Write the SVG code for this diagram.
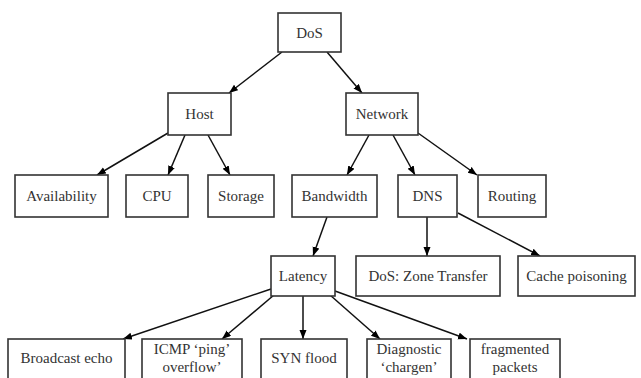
<svg xmlns="http://www.w3.org/2000/svg" width="641" height="378" viewBox="0 0 641 378">
<defs>
<marker id="ah" markerWidth="10" markerHeight="8" refX="9" refY="3.5" orient="auto" markerUnits="userSpaceOnUse">
<path d="M0,0 L9,3.5 L0,7 z" fill="#000"/>
</marker>
<style>
rect{fill:#fff;stroke:#333;stroke-width:1.6}
text{font-family:'Liberation Serif','Times New Roman','DejaVu Serif',serif;font-size:15px;fill:#333;text-anchor:middle;dominant-baseline:central}
.e line{stroke:#111;stroke-width:1.5;marker-end:url(#ah)}
</style>
</defs>
<rect x="0" y="0" width="641" height="378" style="fill:#fff;stroke:none"/>
<g id="connectors" class="e">
<line x1="282" y1="52" x2="229" y2="93"/>
<line x1="327" y1="52" x2="362" y2="93"/>
<line x1="168" y1="133" x2="97" y2="175"/>
<line x1="185" y1="135" x2="168" y2="175"/>
<line x1="208" y1="135" x2="230" y2="175"/>
<line x1="369" y1="135" x2="347" y2="175"/>
<line x1="393" y1="135" x2="415" y2="175"/>
<line x1="418" y1="133" x2="477" y2="175"/>
<line x1="327" y1="217" x2="313" y2="256"/>
<line x1="427" y1="217" x2="427" y2="256"/>
<line x1="458" y1="213" x2="540" y2="256"/>
<line x1="271" y1="289" x2="123" y2="339"/>
<line x1="274" y1="295" x2="222" y2="339"/>
<line x1="303" y1="295" x2="303" y2="339"/>
<line x1="330" y1="295" x2="380" y2="339"/>
<line x1="335" y1="291" x2="467" y2="339"/>
</g>
<g id="n-dos"><rect x="278" y="13" width="63" height="39"/><text x="309.5" y="33">DoS</text></g>
<g id="n-host"><rect x="168" y="93" width="63" height="42"/><text x="199.5" y="114">Host</text></g>
<g id="n-network"><rect x="346" y="93" width="72" height="42"/><text x="382" y="114">Network</text></g>
<g id="n-availability"><rect x="15" y="175" width="93" height="42"/><text x="61.5" y="196">Availability</text></g>
<g id="n-cpu"><rect x="126" y="175" width="62" height="42"/><text x="157" y="196">CPU</text></g>
<g id="n-storage"><rect x="208" y="175" width="66" height="42"/><text x="241" y="196">Storage</text></g>
<g id="n-bandwidth"><rect x="292" y="175" width="85" height="42"/><text x="334.5" y="196">Bandwidth</text></g>
<g id="n-dns"><rect x="398" y="175" width="59" height="42"/><text x="427.5" y="196">DNS</text></g>
<g id="n-routing"><rect x="478" y="175" width="68" height="42"/><text x="512" y="196">Routing</text></g>
<g id="n-latency"><rect x="271" y="256" width="64" height="40"/><text x="303" y="276">Latency</text></g>
<g id="n-zone"><rect x="356" y="256" width="144" height="40"/><text x="428" y="276">DoS: Zone Transfer</text></g>
<g id="n-cache"><rect x="518" y="256" width="117" height="40"/><text x="576.5" y="276">Cache poisoning</text></g>
<g id="n-broadcast"><rect x="8" y="339" width="117" height="48"/><text x="66.5" y="358">Broadcast echo</text></g>
<g id="n-icmp"><rect x="142" y="339" width="100" height="48"/><text x="192" y="349">ICMP ‘ping’</text><text x="192" y="367">overflow’</text></g>
<g id="n-syn"><rect x="261" y="339" width="86" height="48"/><text x="304" y="358">SYN flood</text></g>
<g id="n-diag"><rect x="367" y="339" width="84" height="48"/><text x="409" y="349">Diagnostic</text><text x="409" y="367">‘chargen’</text></g>
<g id="n-frag"><rect x="470" y="339" width="90" height="48"/><text x="515" y="349">fragmented</text><text x="515" y="367">packets</text></g>
</svg>
